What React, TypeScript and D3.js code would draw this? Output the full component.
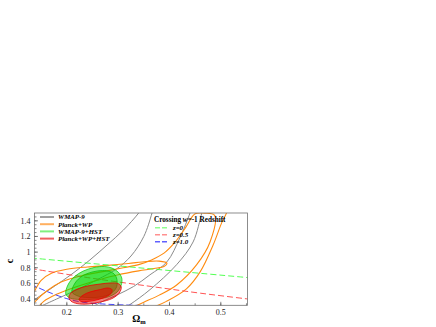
import React from 'react'
import * as d3 from 'd3'

type Pt = [number, number]

// axis ticks
const xTicks = [0.2, 0.3, 0.4, 0.5]
const xTickLabels = ['0.2', '0.3', '0.4', '0.5']
const yTicks = [0.4, 0.6, 0.8, 1.0, 1.2, 1.4]
const yTickLabels = ['0.4', '0.6', '0.8', '1', '1.2', '1.4']

// WMAP-9 contour branches (gray) as [Omega_m, c]
const wmapOuterLeft: Pt[] = [[0.13, 0.36], [0.15, 0.45], [0.175, 0.56], [0.21, 0.72], [0.245, 0.9], [0.28, 1.1], [0.31, 1.28], [0.34, 1.5], [0.35, 1.6]]
const wmapInnerLeft: Pt[] = [[0.15, 0.31], [0.18, 0.4], [0.22, 0.52], [0.26, 0.65], [0.297, 0.786], [0.325, 0.95], [0.35, 1.2], [0.366, 1.5], [0.37, 1.6]]
const wmapInnerRight: Pt[] = [[0.445, 1.6], [0.44, 1.5], [0.42, 1.18], [0.395, 0.875], [0.362, 0.71], [0.33, 0.56], [0.297, 0.45], [0.27, 0.37], [0.25, 0.3]]
const wmapOuterRight: Pt[] = [[0.468, 1.6], [0.463, 1.5], [0.446, 1.13], [0.414, 0.84], [0.362, 0.52], [0.323, 0.33], [0.31, 0.28]]

// Planck+WP contour branches (orange)
const planckBand: Pt[] = [[0.13, 0.3], [0.14, 0.38], [0.16, 0.5], [0.19, 0.62], [0.23, 0.7], [0.27, 0.75], [0.31, 0.8], [0.34, 0.84], [0.365, 0.9], [0.39, 0.99], [0.41, 1.12], [0.43, 1.3], [0.45, 1.49], [0.468, 1.497], [0.488, 1.47], [0.479, 1.13], [0.453, 0.84], [0.414, 0.58], [0.38, 0.45], [0.35, 0.36], [0.33, 0.3]]
const planckFinger: Pt[] = [[0.13, 0.42], [0.137, 0.5], [0.15, 0.64], [0.17, 0.73], [0.2, 0.78], [0.24, 0.81], [0.28, 0.83], [0.32, 0.855], [0.355, 0.88], [0.38, 0.885], [0.395, 0.86], [0.39, 0.82], [0.37, 0.79], [0.34, 0.76], [0.3, 0.71], [0.26, 0.64], [0.22, 0.56], [0.18, 0.46], [0.155, 0.37], [0.145, 0.3]]
const planckOuterRight: Pt[] = [[0.515, 1.6], [0.511, 1.5], [0.502, 1.38], [0.485, 1.09], [0.46, 0.75], [0.433, 0.53], [0.394, 0.37], [0.37, 0.3]]

// WMAP-9+HST (green) filled contours
const wmapHst2: Pt[] = [[0.198, 0.464], [0.202, 0.579], [0.214, 0.681], [0.232, 0.758], [0.253, 0.803], [0.273, 0.816], [0.288, 0.796], [0.3, 0.745], [0.307, 0.669], [0.306, 0.579], [0.298, 0.49], [0.28, 0.426], [0.255, 0.4], [0.226, 0.394], [0.206, 0.413]]
const wmapHst1: Pt[] = [[0.21, 0.49], [0.216, 0.605], [0.23, 0.694], [0.249, 0.745], [0.269, 0.764], [0.284, 0.752], [0.294, 0.707], [0.298, 0.63], [0.296, 0.541], [0.284, 0.464], [0.265, 0.426], [0.241, 0.419], [0.222, 0.438]]

// Planck+WP+HST (red) filled contours
const planckHst2: Pt[] = [[0.204, 0.426], [0.21, 0.49], [0.226, 0.541], [0.245, 0.573], [0.265, 0.592], [0.284, 0.605], [0.3, 0.598], [0.306, 0.553], [0.302, 0.477], [0.288, 0.406], [0.265, 0.362], [0.241, 0.336], [0.22, 0.342], [0.208, 0.374]]
const planckHst1: Pt[] = [[0.224, 0.4], [0.232, 0.451], [0.245, 0.49], [0.265, 0.521], [0.28, 0.541], [0.288, 0.521], [0.286, 0.47], [0.273, 0.419], [0.253, 0.381], [0.235, 0.368], [0.226, 0.374]]

// crossing w=-1 redshift lines
const crossZ0: Pt[] = [[0.13, 0.925], [0.34, 0.8], [0.56, 0.67]]
const crossZ05: Pt[] = [[0.13, 0.79], [0.25, 0.665], [0.365, 0.56], [0.46, 0.475], [0.56, 0.395]]
const crossZ10: Pt[] = [[0.13, 0.59], [0.16, 0.5], [0.2, 0.405], [0.23, 0.36], [0.27, 0.337], [0.31, 0.325], [0.36, 0.315]]

const legendLabels = ['WMAP-9', 'Planck+WP', 'WMAP-9+HST', 'Planck+WP+HST']
const legendColors = ['#a0a0a0', '#ffb060', '#80f080', '#f06060']
const crossLabels = ['z=0', 'z=0.5', 'z=1.0']
const crossColors = ['#40ff40', '#ff4040', '#3030ff']
const crossLegendColors = ['#90ff90', '#ff9090', '#6060ff']

export default function App() {
  const W = 436
  const H = 327
  const m = {left: 34.5, right: 247.5, top: 213, bottom: 305.3}

  const x = d3.scaleLinear().domain([0.137, 0.552]).range([m.left, m.right])
  const y = d3.scaleLinear().domain([0.32, 1.5]).range([m.bottom, m.top])

  const open = d3.line<Pt>().x(d => x(d[0])).y(d => y(d[1])).curve(d3.curveCatmullRom)
  const closed = d3.line<Pt>().x(d => x(d[0])).y(d => y(d[1])).curve(d3.curveCatmullRomClosed)

  const xMinor = d3.range(0.15, 0.551, 0.05)
  const yMinor = d3.range(0.35, 1.49, 0.05)

  const font = 'Liberation Serif, Times New Roman, serif'

  const gray = [wmapOuterLeft, wmapInnerLeft, wmapInnerRight, wmapOuterRight]
  const orange = [planckBand, planckFinger, planckOuterRight]
  const cross = [crossZ0, crossZ05, crossZ10]

  return (
    <svg width={W} height={H} style={{position: 'absolute', left: 0, top: 0}} fontFamily={font}>
      <defs>
        <clipPath id="plot-area">
          <rect x={m.left} y={m.top} width={m.right - m.left} height={m.bottom - m.top} />
        </clipPath>
      </defs>
      <rect x={0} y={0} width={W} height={H} fill="#fff" />

      <g clipPath="url(#plot-area)">
        {gray.map((d, i) => (
          <path key={'g' + i} d={open(d) || ''} fill="none" stroke="#8a8a8a" strokeWidth={1} />
        ))}
        {orange.map((d, i) => (
          <path key={'o' + i} d={open(d) || ''} fill="none" stroke="#ff8c10" strokeWidth={1.1} />
        ))}
        {cross.map((d, i) => (
          <path key={'c' + i} d={open(d) || ''} fill="none" stroke={crossColors[i]} strokeWidth={0.9} strokeDasharray="6,3" />
        ))}

        <path d={closed(wmapHst2) || ''} fill="rgb(0,225,0)" fillOpacity={0.5} stroke="rgb(0,200,0)" strokeWidth={0.7} />
        <path d={closed(wmapHst1) || ''} fill="rgb(0,210,0)" fillOpacity={0.45} stroke="rgb(0,190,0)" strokeWidth={0.7} />
        <path d={closed(planckHst2) || ''} fill="rgb(235,0,0)" fillOpacity={0.5} stroke="rgb(235,0,0)" strokeWidth={0.8} />
        <path d={closed(planckHst1) || ''} fill="rgb(235,0,0)" fillOpacity={0.55} stroke="rgb(235,0,0)" strokeWidth={0.8} />
      </g>

      {/* frame */}
      <rect x={m.left} y={m.top} width={m.right - m.left} height={m.bottom - m.top} fill="none" stroke="#707070" strokeWidth={0.8} />

      {/* x ticks */}
      {xMinor.map(v => (
        <line key={'xm' + v} x1={x(v)} x2={x(v)} y1={m.bottom} y2={m.bottom - 2} stroke="#555" strokeWidth={0.7} />
      ))}
      {xTicks.map((v, i) => (
        <g key={'x' + v}>
          <line x1={x(v)} x2={x(v)} y1={m.bottom} y2={m.bottom - 3.5} stroke="#555" strokeWidth={0.7} />
          <text x={x(v)} y={314.5} fontSize={8} textAnchor="middle" fill="#222">{xTickLabels[i]}</text>
        </g>
      ))}

      {/* y ticks */}
      {yMinor.map(v => (
        <line key={'ym' + v} x1={m.left} x2={m.left + 2} y1={y(v)} y2={y(v)} stroke="#555" strokeWidth={0.7} />
      ))}
      {yTicks.map((v, i) => (
        <g key={'y' + v}>
          <line x1={m.left} x2={m.left + 3.5} y1={y(v)} y2={y(v)} stroke="#555" strokeWidth={0.7} />
          <text x={30.5} y={y(v) + 2.8} fontSize={8} textAnchor="end" fill="#222">{yTickLabels[i]}</text>
        </g>
      ))}

      {/* axis titles */}
      <text x={139} y={322} fontSize={10} fontWeight="bold" textAnchor="middle">
        Ω<tspan fontSize={6.5} dy={2}>m</tspan>
      </text>
      <text transform="translate(12.5,261) rotate(-90)" fontSize={10} fontWeight="bold" textAnchor="middle">c</text>

      {/* left legend */}
      {legendLabels.map((t, i) => {
        const ly = 217 + i * 7.2
        return (
          <g key={t}>
            <line x1={40} x2={54} y1={ly} y2={ly} stroke={legendColors[i]} strokeWidth={2} />
            <text x={58} y={ly + 2.4} fontSize={6.9} fontWeight="bold" fontStyle="italic">{t}</text>
          </g>
        )
      })}

      {/* right legend */}
      <text x={154} y={221.5} fontSize={7.2} fontWeight="bold">Crossing <tspan fontStyle="italic">w</tspan>=-1 Redshift</text>
      {crossLabels.map((t, i) => {
        const ly = 227.8 + i * 7
        return (
          <g key={t}>
            <line x1={155} x2={168} y1={ly} y2={ly} stroke={crossLegendColors[i]} strokeWidth={1.5} strokeDasharray="5,2" />
            <text x={173} y={ly + 2.4} fontSize={6.9} fontWeight="bold" fontStyle="italic">{t}</text>
          </g>
        )
      })}
    </svg>
  )
}
